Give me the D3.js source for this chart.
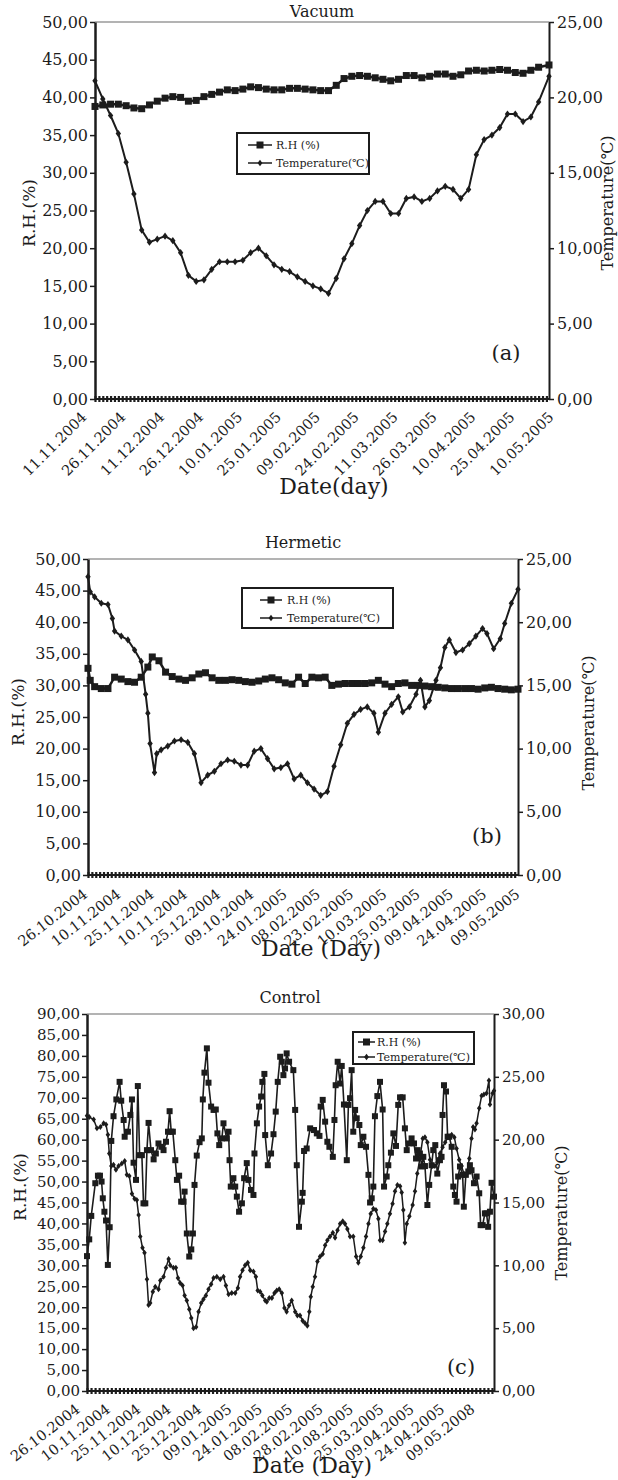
<!DOCTYPE html>
<html>
<head>
<meta charset="utf-8">
<script src="https://cdn.jsdelivr.net/npm/d3@7/dist/d3.min.js"></script>
<style>
  body { margin: 0; background: #fff; }
  svg text { font-family: "DejaVu Serif", serif; fill: #1c1c1c; }
</style>
</head>
<body>
<svg id="fig" width="618" height="1480"></svg>
<script>
// ---------- data (day index from the first label date) ----------
const legendNames = ["R.H (%)", "Temperature(\u2103)"];

// (a) Vacuum
const vacuumLabels = ["11.11.2004", "26.11.2004", "11.12.2004", "26.12.2004", "10.01.2005", "25.01.2005",
  "09.02.2005", "24.02.2005", "11.03.2005", "26.03.2005", "10.04.2005", "25.04.2005", "10.05.2005"];
const vacuumDays = [0, 3, 6, 9, 12, 15, 18, 21, 24, 27, 30, 33, 36, 39, 42, 45, 48, 51, 54, 57,
  60, 63, 66, 69, 72, 75, 78, 81, 84, 87, 90, 93, 96, 99, 102, 105, 108, 111, 114, 117,
  120, 123, 126, 129, 132, 135, 138, 141, 144, 147, 150, 153, 156, 159, 162, 165, 168, 171, 175];
const vacuumRH = [38.8, 39.0, 39.1, 39.1, 38.9, 38.6, 38.5, 39.0, 39.5, 39.9,
  40.1, 40.0, 39.5, 39.6, 40.1, 40.4, 40.7, 41.0, 40.9, 41.1,
  41.4, 41.3, 41.1, 41.0, 41.0, 41.2, 41.2, 41.1, 41.0, 40.9,
  40.9, 41.6, 42.5, 42.8, 42.9, 42.8, 42.6, 42.4, 42.2, 42.4,
  42.9, 42.9, 42.6, 42.8, 43.1, 43.1, 42.8, 43.0, 43.5, 43.6,
  43.5, 43.6, 43.7, 43.6, 43.3, 43.2, 43.6, 44.0, 44.3];
const vacuumTemp = [21.1, 19.9, 18.8, 17.6, 15.7, 13.6, 11.2, 10.4, 10.6, 10.8,
  10.5, 9.7, 8.2, 7.8, 7.9, 8.6, 9.1, 9.1, 9.1, 9.2,
  9.7, 10.0, 9.5, 8.9, 8.6, 8.45, 8.1, 7.8, 7.5, 7.3,
  7.0, 8.0, 9.3, 10.3, 11.5, 12.5, 13.1, 13.1, 12.3, 12.3,
  13.3, 13.4, 13.1, 13.3, 13.8, 14.1, 13.9, 13.3, 13.9, 16.2,
  17.2, 17.5, 18.0, 18.9, 18.9, 18.4, 18.7, 19.7, 21.4];

// (b) Hermetic
const hermeticLabels = ["26.10.2004", "10.11.2004", "25.11.2004", "10.11.2004", "25.12.2004", "09.10.2004",
  "24.01.2005", "08.02.2005", "23.02.2005", "10.03.2005", "25.03.2005", "09.04.2005", "24.04.2005", "09.05.2005"];
const hermeticRHDays = [0, 1, 3, 6, 9, 12, 15, 18, 21, 24, 27, 29, 32, 35, 38, 41, 44, 47, 50, 53,
  56, 59, 62, 65, 68, 71, 74, 77, 80, 83, 86, 89, 92, 95, 98, 101, 104, 107, 110, 113,
  116, 119, 122, 125, 128, 131, 134, 137, 140, 143, 146, 149, 152, 155, 158, 161, 164, 167, 170, 173,
  176, 179, 182, 185, 188, 191, 194];
const hermeticRH = [32.7, 30.8, 29.8, 29.5, 29.5, 31.3, 31.0, 30.6, 30.5, 31.3,
  32.9, 34.5, 33.9, 32.1, 31.4, 31.0, 30.8, 31.2, 31.8, 32.0,
  31.2, 30.8, 30.8, 30.9, 30.8, 30.6, 30.5, 30.7, 31.0, 31.2,
  30.9, 30.4, 30.2, 31.3, 30.3, 31.3, 31.2, 31.3, 30.0, 30.2,
  30.3, 30.3, 30.3, 30.3, 30.4, 30.8, 30.2, 29.8, 30.3, 30.4,
  30.0, 30.0, 29.9, 29.8, 29.7, 29.6, 29.5, 29.5, 29.5, 29.5,
  29.4, 29.6, 29.7, 29.5, 29.4, 29.3, 29.4];
const hermeticTempDays = [0, 1, 3, 6, 9, 11, 12, 15, 18, 21, 24, 26, 27, 28, 30, 31, 33, 36, 39, 42,
  45, 48, 51, 54, 57, 60, 63, 66, 69, 72, 75, 78, 81, 84, 87, 90, 93, 96, 99, 102,
  105, 108, 111, 114, 117, 120, 123, 126, 129, 131, 134, 137, 140, 142, 145, 148, 150, 152, 154, 157,
  159, 161, 163, 166, 169, 172, 175, 178, 180, 183, 186, 188, 191, 194];
const hermeticTemp = [23.6, 22.4, 22.0, 21.5, 21.4, 20.3, 19.3, 18.9, 18.6, 17.8,
  16.9, 14.3, 12.8, 10.4, 8.1, 9.6, 9.9, 10.2, 10.6, 10.7,
  10.5, 9.6, 7.3, 7.9, 8.2, 8.8, 9.1, 9.0, 8.7, 8.7,
  9.8, 10.0, 9.2, 8.4, 8.5, 8.8, 7.6, 7.9, 7.3, 6.8,
  6.3, 6.6, 8.6, 10.3, 12.0, 12.7, 13.1, 13.3, 12.8, 11.3,
  12.8, 13.5, 14.1, 12.9, 13.3, 14.3, 15.4, 13.3, 13.8, 15.4,
  16.4, 18.0, 18.6, 17.6, 17.8, 18.3, 18.9, 19.5, 19.1, 17.9,
  18.7, 19.9, 21.5, 22.6];

// (c) Control
const controlLabels = ["26.10.2004", "10.11.2004", "25.11.2004", "10.12.2004", "25.12.2004", "09.01.2005",
  "24.01.2005", "08.02.2005", "28.02.2005", "10.08.2005", "25.03.2005", "09.04.2005", "24.04.2005", "09.05.2008"];
const controlRHDays = [0, 1.1, 2.1, 4.1, 5.4, 6.4, 7.2, 7.8, 8.6, 9.4,
  10.3, 11.2, 12.0, 13.1, 14.5, 16.1, 16.9, 18.1, 18.6, 20.2,
  21.4, 22.2, 23.0, 24.2, 25.1, 26.0, 27.1, 27.9, 28.8, 29.6,
  30.4, 31.6, 32.9, 34.0, 35.3, 36.7, 37.8, 39.0, 40.0, 40.8,
  41.6, 42.4, 43.6, 44.4, 45.5, 46.5, 47.7, 48.2, 49.3, 50.5,
  51.5, 52.3, 53.1, 54.2, 55.6, 56.7, 57.2, 58.0, 59.2, 60.0,
  61.3, 62.5, 63.6, 64.4, 65.3, 66.6, 67.4, 69.0, 69.9, 70.4,
  71.0, 72.3, 73.2, 74.0, 75.1, 76.5, 77.6, 78.9, 79.7, 81.0,
  82.2, 82.7, 83.9, 85.0, 86.0, 86.6, 87.6, 88.0, 89.3, 90.9,
  92.1, 93.2, 94.2, 95.4, 96.2, 97.0, 97.8, 98.6, 99.8, 101.9,
  102.8, 103.6, 104.7, 106.1, 106.5, 107.2, 108.5, 110.2, 112.1, 113.5,
  114.8, 115.4, 116.4, 117.6, 118.7, 119.7, 121.4, 122.2, 122.8, 123.8,
  125.0, 125.8, 126.9, 128.3, 129.1, 129.9, 130.7, 131.5, 132.4, 133.2,
  134.5, 135.2, 136.5, 137.8, 139.0, 139.8, 140.6, 141.4, 142.2, 143.4,
  144.7, 146.0, 146.7, 148.0, 148.8, 150.1, 151.3, 152.6, 153.7, 154.6,
  155.9, 157.0, 157.9, 158.7, 160.3, 161.5, 162.5, 163.3, 164.4, 165.3,
  166.1, 166.9, 168.1, 169.0, 170.2, 171.0, 172.0, 173.0, 174.3, 175.1,
  175.6, 176.3, 177.3, 178.1, 178.9, 180.1, 180.9, 181.7, 182.5, 183.3,
  184.2, 185.5, 186.1, 187.1, 188.3, 189.1, 189.9, 191.1, 192.4, 193.7,
  194.4, 195.4, 196.5, 197.3, 198.1, 199.0, 199.8, 201];
const controlRH = [32.2, 36.2, 41.8, 49.6, 51.4, 51.4, 50.0, 46.0, 42.8, 40.7,
  30.1, 39.1, 59.7, 65.6, 69.6, 73.8, 69.3, 64.7, 60.7, 61.9,
  65.9, 69.6, 54.5, 50.4, 72.8, 56.3, 56.3, 44.8, 44.8, 57.5,
  64.0, 57.5, 55.3, 56.7, 59.1, 58.3, 57.5, 59.5, 61.9, 66.8,
  61.9, 61.9, 55.1, 50.4, 51.4, 45.2, 45.2, 47.6, 37.6, 32.1,
  33.8, 37.6, 49.2, 56.2, 59.4, 60.3, 69.6, 76.0, 81.8, 73.6,
  67.9, 67.1, 67.2, 61.5, 58.7, 60.3, 63.9, 60.3, 61.9, 55.1,
  48.8, 50.8, 48.8, 46.4, 42.8, 44.8, 50.8, 54.4, 50.4, 48.0,
  46.8, 56.7, 63.9, 67.9, 70.3, 73.8, 75.7, 61.1, 53.9, 56.7,
  61.3, 66.7, 73.8, 79.8, 78.6, 75.4, 77.0, 80.6, 78.6, 76.6,
  67.1, 53.9, 39.2, 45.2, 47.3, 57.3, 57.9, 62.7, 62.3, 61.5,
  60.9, 67.9, 69.5, 64.3, 59.5, 58.3, 55.9, 64.7, 73.0, 78.6,
  73.4, 77.6, 68.4, 55.1, 68.3, 69.9, 76.6, 61.9, 67.1, 65.1,
  63.5, 58.7, 60.7, 58.3, 51.6, 45.0, 46.0, 48.8, 65.6, 70.4,
  73.8, 67.2, 48.8, 51.2, 53.9, 56.9, 61.5, 58.5, 68.3, 70.1,
  70.1, 62.7, 57.5, 59.1, 60.3, 59.1, 55.5, 57.5, 56.7, 53.6,
  55.9, 53.7, 44.4, 49.2, 53.9, 57.5, 58.7, 51.9, 55.1, 55.9,
  65.9, 73.0, 71.5, 60.7, 60.7, 58.3, 48.8, 46.8, 45.2, 51.2,
  53.6, 51.6, 44.0, 51.6, 52.4, 53.9, 52.7, 49.6, 51.2, 47.2,
  39.6, 39.6, 42.4, 42.4, 39.2, 42.8, 49.7, 46.4];
const controlTempDays = [0, 1.1, 3.3, 4.9, 6.6, 8.2, 9.4, 10.3, 11.0, 12.0,
  13.1, 14.3, 15.6, 17.2, 18.6, 19.7, 20.9, 22.2, 23.5, 24.6,
  25.5, 26.3, 27.4, 28.4, 29.6, 30.4, 31.2, 32.5, 33.7, 35.3,
  36.2, 37.8, 39.0, 40.3, 41.1, 42.7, 43.9, 44.9, 46.0, 47.2,
  48.2, 49.3, 50.5, 51.5, 52.6, 53.9, 55.1, 56.4, 57.5, 58.7,
  60.0, 61.3, 62.5, 64.1, 65.8, 67.4, 68.6, 69.9, 71.5, 73.2,
  74.5, 75.6, 76.8, 78.1, 79.4, 80.6, 82.2, 83.4, 84.3, 85.5,
  86.6, 88.0, 88.8, 90.0, 91.3, 92.6, 93.7, 94.9, 96.2, 97.5,
  98.6, 99.8, 101.1, 102.8, 103.9, 105.2, 106.5, 107.7, 108.8, 109.8,
  110.5, 111.5, 112.6, 113.8, 115.1, 116.4, 117.6, 118.7, 120.0, 121.4,
  122.5, 123.7, 125.0, 126.3, 127.4, 128.6, 129.9, 131.5, 132.9, 134.0,
  135.2, 136.5, 137.8, 139.0, 140.1, 141.4, 142.7, 143.9, 144.7, 146.0,
  147.2, 148.3, 149.6, 150.9, 152.1, 153.3, 154.6, 155.4, 156.2, 157.0,
  157.9, 159.2, 160.8, 162.0, 163.1, 164.4, 165.8, 166.9, 168.1, 169.4,
  170.7, 171.8, 173.0, 174.3, 175.6, 176.9, 178.4, 180.1, 181.4, 182.5,
  183.8, 185.0, 186.1, 187.5, 188.8, 189.9, 190.7, 191.6, 192.4, 193.7,
  194.9, 196.0, 197.3, 198.5, 199.0, 200.3, 201];
const controlTemp = [21.9, 21.8, 21.6, 20.9, 21.0, 21.3, 21.2, 20.4, 18.9, 17.9,
  18.0, 17.6, 17.9, 18.1, 18.3, 17.2, 17.1, 15.7, 15.3, 15.2,
  14.0, 12.3, 11.4, 11.0, 8.9, 6.85, 7.0, 7.9, 8.3, 8.1,
  8.8, 9.1, 9.8, 10.5, 10.0, 9.8, 9.8, 9.0, 8.6, 8.4,
  7.6, 7.2, 6.5, 5.8, 5.0, 5.1, 6.3, 7.0, 7.3, 7.6,
  8.1, 8.5, 9.0, 9.1, 8.9, 9.1, 8.4, 7.7, 7.8, 7.8,
  8.2, 9.1, 9.6, 10.0, 10.2, 9.6, 9.5, 9.1, 8.0, 7.9,
  7.6, 7.2, 7.1, 7.4, 7.4, 7.8, 8.0, 8.1, 7.8, 6.6,
  6.3, 6.8, 7.2, 6.3, 6.0, 6.0, 5.6, 5.4, 5.2, 6.3,
  7.5, 8.3, 9.1, 10.3, 10.7, 10.9, 11.6, 12.0, 12.3, 12.6,
  12.2, 12.8, 13.3, 13.5, 13.3, 12.9, 12.3, 12.3, 10.7, 10.2,
  10.7, 11.4, 12.3, 13.3, 14.1, 14.5, 14.4, 13.7, 12.0, 12.0,
  12.7, 13.3, 14.1, 14.9, 15.9, 16.4, 16.3, 15.8, 14.4, 11.8,
  13.3, 13.9, 14.8, 15.9, 17.3, 18.5, 20.1, 20.2, 19.8, 18.4,
  17.9, 17.9, 18.2, 18.9, 19.4, 19.8, 20.2, 20.4, 20.2, 19.3,
  18.4, 17.9, 17.3, 17.3, 18.5, 20.1, 21.0, 20.8, 21.3, 22.5,
  23.5, 23.6, 23.7, 24.7, 22.8, 23.7, 23.9];

// ---------- drawing ----------
const ink = "#1c1c1c";
const svg = d3.select("#fig");
const comma = v => d3.format(".2f")(v).replace(".", ",");
const diamond = r => "M0," + (-r) + "L" + (r * 0.75) + ",0L0," + r + "L" + (-r * 0.75) + ",0Z";

function drawPanel(p) {
  const g = svg.append("g");
  const x = d3.scaleLinear().domain([0, p.span]).range([p.left, p.right]);
  const yRH = d3.scaleLinear().domain([0, p.rhMax]).range([p.bottom, p.top]);
  const yT = d3.scaleLinear().domain([0, p.tMax]).range([p.bottom, p.top]);

  // grey frame line on top
  g.append("line")
    .attr("x1", p.left).attr("x2", p.right)
    .attr("y1", p.top).attr("y2", p.top)
    .attr("stroke", "#9a9a9a").attr("stroke-width", 1.5);

  // the dense day marks sitting on the x axis
  const hatch = g.append("g")
    .attr("transform", "translate(0," + (p.bottom - 3) + ")")
    .call(d3.axisBottom(x).tickValues(d3.range(0, p.span, p.hatch)).tickSize(6).tickFormat(""))
    .attr("color", ink);
  hatch.select(".domain").remove();
  hatch.selectAll("line").attr("stroke-width", 2.2);

  g.append("line")
    .attr("x1", p.left).attr("x2", p.right)
    .attr("y1", p.bottom).attr("y2", p.bottom)
    .attr("stroke", ink).attr("stroke-width", 2);

  const left = g.append("g")
    .attr("transform", "translate(" + p.left + ",0)")
    .call(d3.axisLeft(yRH).tickValues(d3.range(0, p.rhMax + 1, 5))
      .tickSize(5).tickSizeOuter(0).tickPadding(2).tickFormat(comma))
    .attr("color", ink).attr("font-size", p.tickFont).attr("font-family", null);
  left.select(".domain").attr("stroke-width", 2.5);
  left.selectAll(".tick line").attr("stroke-width", 1.5);

  const right = g.append("g")
    .attr("transform", "translate(" + p.right + ",0)")
    .call(d3.axisRight(yT).tickValues(d3.range(0, p.tMax + 1, 5))
      .tickSize(5).tickSizeOuter(0).tickPadding(3).tickFormat(comma))
    .attr("color", ink).attr("font-size", p.tickFont).attr("font-family", null);
  right.select(".domain").attr("stroke-width", 2);
  right.selectAll(".tick line").attr("stroke-width", 1.5);

  // rotated date labels
  const xl = g.append("g")
    .attr("transform", "translate(0," + p.bottom + ")")
    .call(d3.axisBottom(x).tickValues(p.labels.map((d, i) => i * 15))
      .tickSize(0).tickFormat((d, i) => p.labels[i]))
    .attr("color", ink).attr("font-size", 14.5).attr("font-family", null);
  xl.select(".domain").remove();
  xl.selectAll("text")
    .attr("y", 0).attr("dy", 0)
    .attr("text-anchor", "end")
    .attr("transform", "translate(" + p.lblDx + "," + p.lblDy + ") rotate(" + p.lblRot + ")");

  // series
  const rh = d3.zip(p.rhDays, p.rh);
  const tp = d3.zip(p.tDays, p.temp);

  g.append("path").datum(rh)
    .attr("fill", "none").attr("stroke", ink).attr("stroke-width", p.rhLine)
    .attr("d", d3.line().x(d => x(d[0])).y(d => yRH(d[1])));
  g.append("g").selectAll("rect").data(rh).join("rect")
    .attr("x", d => x(d[0]) - p.sq / 2).attr("y", d => yRH(d[1]) - p.sq / 2)
    .attr("width", p.sq).attr("height", p.sq).attr("fill", ink);

  g.append("path").datum(tp)
    .attr("fill", "none").attr("stroke", ink).attr("stroke-width", p.tLine)
    .attr("d", d3.line().x(d => x(d[0])).y(d => yT(d[1])));
  g.append("g").selectAll("path").data(tp).join("path")
    .attr("transform", d => "translate(" + x(d[0]) + "," + yT(d[1]) + ")")
    .attr("d", diamond(p.dm)).attr("fill", ink);

  // legend
  const L = p.legend;
  const lg = g.append("g");
  lg.append("rect")
    .attr("x", L.x).attr("y", L.y).attr("width", L.w).attr("height", L.h)
    .attr("fill", "#fff").attr("stroke", ink).attr("stroke-width", 2);
  legendNames.forEach((name, i) => {
    const yy = L.rows[i];
    lg.append("line").attr("x1", L.x1).attr("x2", L.x2).attr("y1", yy).attr("y2", yy)
      .attr("stroke", ink).attr("stroke-width", 1.5);
    const cx = (L.x1 + L.x2) / 2;
    if (i === 0) {
      lg.append("rect").attr("x", cx - 3.5).attr("y", yy - 3.5).attr("width", 7).attr("height", 7).attr("fill", ink);
    } else {
      lg.append("path").attr("transform", "translate(" + cx + "," + yy + ")").attr("d", diamond(3.2)).attr("fill", ink);
    }
    lg.append("text").attr("x", L.tx).attr("y", yy).attr("dy", "0.35em")
      .attr("font-size", 11).text(name);
  });

  // titles
  g.append("text").attr("x", p.title[1]).attr("y", p.title[2])
    .attr("text-anchor", "middle").attr("font-size", 16).text(p.title[0]);
  g.append("text").attr("x", p.xTitle[1]).attr("y", p.xTitle[2])
    .attr("text-anchor", "middle").attr("font-size", 22).text(p.xTitle[0]);
  g.append("text").attr("transform", "translate(" + p.yTitle[0] + "," + p.yTitle[1] + ") rotate(-90)")
    .attr("text-anchor", "middle").attr("font-size", 17).text("R.H.(%)");
  g.append("text").attr("transform", "translate(" + p.tTitle[0] + "," + p.tTitle[1] + ") rotate(-90)")
    .attr("text-anchor", "middle").attr("font-size", 16).text("Temperature(\u2103)");
  g.append("text").attr("x", p.tag[1]).attr("y", p.tag[2])
    .attr("text-anchor", "middle").attr("font-size", 21).text(p.tag[0]);
}

drawPanel({
  left: 95, right: 549, top: 22, bottom: 399, span: 175, rhMax: 50, tMax: 25,
  labels: vacuumLabels, lblDx: -8, lblDy: 19, lblRot: -45, hatch: 1.5, tickFont: 16,
  rhDays: vacuumDays, rh: vacuumRH, tDays: vacuumDays, temp: vacuumTemp,
  sq: 7, dm: 3.6, rhLine: 2.5, tLine: 2,
  legend: { x: 237, y: 133, w: 132, h: 41, rows: [145, 163], x1: 248, x2: 272, tx: 276 },
  title: ["Vacuum", 322, 17], xTitle: ["Date(day)", 334, 494],
  yTitle: [35, 213], tTitle: [613, 203], tag: ["(a)", 506, 360]
});

drawPanel({
  left: 88, right: 518, top: 559, bottom: 875, span: 194, rhMax: 50, tMax: 25,
  labels: hermeticLabels, lblDx: 0, lblDy: 21, lblRot: -38, hatch: 1.75, tickFont: 16,
  rhDays: hermeticRHDays, rh: hermeticRH, tDays: hermeticTempDays, temp: hermeticTemp,
  sq: 7, dm: 3.6, rhLine: 2.5, tLine: 2,
  legend: { x: 242, y: 588, w: 151, h: 40, rows: [600, 618], x1: 260, x2: 282, tx: 287 },
  title: ["Hermetic", 303, 548], xTitle: ["Date (Day)", 321, 956],
  yTitle: [24, 712], tTitle: [594, 723], tag: ["(b)", 487, 843]
});

drawPanel({
  left: 87, right: 494, top: 1014, bottom: 1391, span: 201, rhMax: 90, tMax: 30,
  labels: controlLabels, lblDx: -6.5, lblDy: 20, lblRot: -38, hatch: 2, tickFont: 15,
  rhDays: controlRHDays, rh: controlRH, tDays: controlTempDays, temp: controlTemp,
  sq: 6, dm: 3, rhLine: 1.6, tLine: 1.5,
  legend: { x: 353, y: 1032, w: 121, h: 32, rows: [1042, 1057], x1: 358, x2: 375, tx: 377 },
  title: ["Control", 290, 1003], xTitle: ["Date (Day)", 312, 1473],
  yTitle: [26, 1187], tTitle: [567, 1213], tag: ["(c)", 461, 1374]
});
</script>
</body>
</html>
